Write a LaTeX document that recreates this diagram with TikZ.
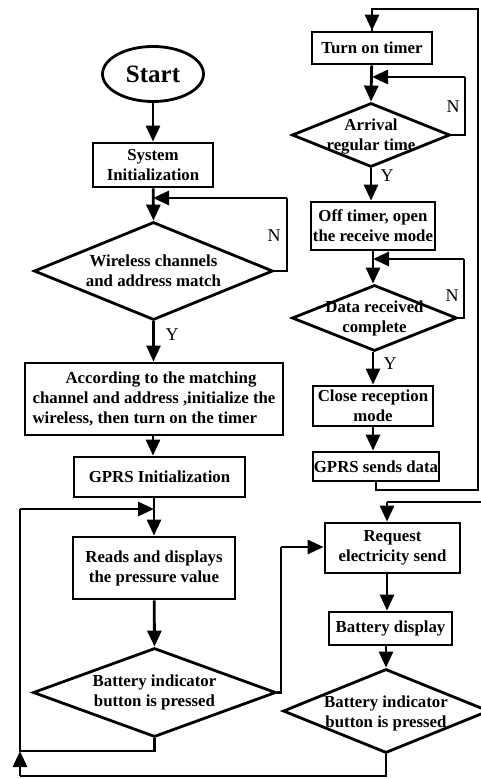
\documentclass[tikz,border=0pt]{standalone}
\usepackage{fontspec}
\setmainfont{Liberation Serif}
\usetikzlibrary{shapes.geometric,arrows.meta}
\tikzset{
 box/.style={draw, line width=2.8pt, rectangle, inner sep=0pt, align=center, font=\bfseries\fontsize{16.8}{20}\selectfont},
 dia/.style={draw, line width=2.8pt, diamond, inner sep=0pt},
 dtext/.style={font=\bfseries\fontsize{16.8}{20}\selectfont, align=center, inner sep=0pt},
 yn/.style={font=\fontsize{18}{20}\selectfont, inner sep=0pt},
 arr/.style={line width=2.8pt, -{Triangle[length=16pt,width=14pt]}},
 ln/.style={line width=2.8pt},
}
\begin{document}
\begin{tikzpicture}[x=1pt,y=-1pt]
\useasboundingbox (0,0) rectangle (481,779);
\clip (0,0) rectangle (481,779);
% left column
\node[draw, line width=2.8pt, ellipse, minimum width=101pt, minimum height=55pt, inner sep=0pt, font=\bfseries\fontsize{25}{26}\selectfont] (start) at (153,74) {Start};
\node[box, minimum width=120pt, minimum height=44pt] (sysinit) at (153,165) {System\\Initialization};
\node[dia, minimum width=239pt, minimum height=98pt, label={[dtext]center:{Wireless channels\\and address match}}] (wdiam) at (153.5,271) {};
\node[box, minimum width=258pt, minimum height=72pt, align=left] (accord) at (154,399) {\hspace*{33pt}According to the matching\\channel and address ,initialize the\\wireless, then turn on the timer};
\node[box, minimum width=171pt, minimum height=40pt] (gprsinit) at (159.5,477) {GPRS Initialization};
\node[box, minimum width=162pt, minimum height=62pt] (reads) at (154,568) {Reads and displays\\the pressure value};
\node[dia, minimum width=243pt, minimum height=89pt, label={[dtext]center:{Battery indicator\\button is pressed}}] (bdiam1) at (154.5,692.5) {};
% right column
\node[box, minimum width=120pt, minimum height=32pt] (timer) at (372,48) {Turn on timer};
\node[dia, minimum width=158pt, minimum height=64pt, label={[dtext, yshift=-2pt]center:{Arrival\\regular time}}] (adiam) at (371,135) {};
\node[box, minimum width=124pt, minimum height=48pt] (offtimer) at (373,226) {Off timer, open\\the receive mode};
\node[dia, minimum width=165pt, minimum height=66pt, label={[dtext]center:{Data received\\complete}}] (ddiam) at (374.5,318) {};
\node[box, minimum width=120pt, minimum height=40pt] (close) at (373,406) {Close reception\\mode};
\node[box, minimum width=126pt, minimum height=29pt] (gprssend) at (376,466.5) {GPRS sends data};
\node[box, minimum width=135pt, minimum height=50pt] (request) at (392.5,548) {Request\\electricity send};
\node[box, minimum width=123pt, minimum height=33pt] (battdisp) at (390.5,628.5) {Battery display};
\node[dia, minimum width=206pt, minimum height=84pt, label={[dtext, yshift=-2pt]center:{Battery indicator\\button is pressed}}] (bdiam2) at (386,711) {};
% labels
\node[yn] (n1) at (274,236) {N};
\node[yn] (y1) at (172,335) {Y};
\node[yn] (n2) at (453,107) {N};
\node[yn] (y2) at (387,176) {Y};
\node[yn] (n3) at (452,296) {N};
\node[yn] (y3) at (390,364) {Y};
% coordinates
\coordinate (c1) at (287,198);
\coordinate (c2) at (20,751);
\coordinate (c3) at (20,509);
\coordinate (c4) at (281,547);
\coordinate (c5) at (465,77);
\coordinate (c6) at (464,259);
\coordinate (c7) at (478,490);
\coordinate (c8) at (478,9);
\coordinate (c9) at (490,502);
\coordinate (c10) at (387,502);
\coordinate (c11) at (20,776);
% left connectors
\draw[arr] (start) -- (sysinit);
\draw[arr] (sysinit) -- (wdiam.north);
\draw[ln] (wdiam.east) -| (c1);
\draw[arr] (c1) -- (sysinit.south |- c1);
\draw[arr] (wdiam.south) -- (accord.north -| wdiam.south);
\draw[arr] (accord.south -| 153,0) -- (gprsinit.north -| 153,0);
\draw[arr] (gprsinit.south -| reads.north) -- (reads.north);
\draw[arr] (reads) -- (bdiam1.north);
\draw[ln] (bdiam1.south) |- (c2) -- (c3);
\draw[arr] (c3) -- (reads.north |- c3);
\draw[ln] (bdiam1.east) -| (c4);
\draw[arr] (c4) -- (request.west |- c4);
% right connectors
\draw[ln] (gprssend.south) |- (c7) -- (c8) -| (timer.north);
\draw[arr] (timer.north |- c8) -- (timer.north);
\draw[arr] (timer) -- (adiam.north);
\draw[ln] (adiam.east) -| (c5);
\draw[arr] (c5) -- (timer.south |- c5);
\draw[arr] (adiam.south) -- (offtimer.north -| adiam.south);
\draw[arr] (offtimer) -- (ddiam.north -| offtimer);
\draw[ln] (ddiam.east) -| (c6);
\draw[arr] (c6) -- (offtimer.south |- c6);
\draw[arr] (ddiam.south -| close) -- (close.north);
\draw[arr] (close.south) -- (gprssend.north -| close.south);
\draw[ln] (c9) -- (c10);
\draw[arr] (c10) -- (request.north -| c10);
\draw[arr] (request.south -| c10) -- (battdisp.north -| c10);
\draw[arr] (battdisp.south -| bdiam2.north) -- (bdiam2.north);
\draw[ln] (bdiam2.south) |- (c11);
\draw[arr] (c11) -- (c2);
\end{tikzpicture}
\end{document}
